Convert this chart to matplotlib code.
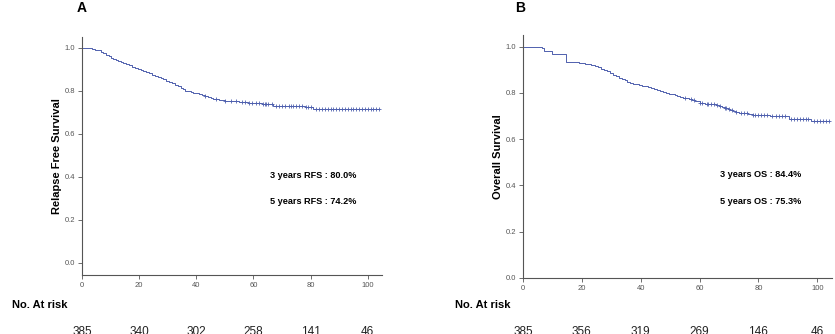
"""
Kaplan-Meier curves for relapse-free (A) and overall survival (B),
with number-at-risk rows under each panel.
"""
import numpy as np
import matplotlib.pyplot as plt

plt.rcParams["font.family"] = ["Liberation Sans", "DejaVu Sans"]

CURVE = "#4f60ae"

# Panel A: relapse-free survival step function (months, survival)
rfs_t = [0, 3.5, 4.5, 5.5, 6.5, 7.5, 8.5, 9.5, 10.2, 11, 11.8, 12.6, 13.5,
         14.5, 15.5, 16.5, 17.5, 18.5, 19.5, 20.5, 21.5, 22.5, 23.5, 24.5,
         25.5, 26.5, 27.5, 28.5, 29.5, 30.5, 31.5, 32.5, 33.5, 34.5, 35.5, 36,
         37, 38, 39, 40, 41, 42, 43, 44, 45, 46, 47, 48, 50, 52, 55, 58, 60,
         63, 66, 67, 72, 78, 81]
rfs_s = [1.0, 0.996, 0.992, 0.988, 0.982, 0.976, 0.969, 0.962, 0.955, 0.948,
         0.942, 0.937, 0.933, 0.929, 0.924, 0.919, 0.913, 0.907, 0.901, 0.897,
         0.892, 0.886, 0.881, 0.876, 0.870, 0.865, 0.859, 0.853, 0.847, 0.841,
         0.835, 0.829, 0.822, 0.815, 0.807, 0.800, 0.798, 0.796, 0.792, 0.788,
         0.784, 0.780, 0.776, 0.771, 0.767, 0.763, 0.760, 0.757, 0.754, 0.751,
         0.748, 0.745, 0.742, 0.740, 0.738, 0.731, 0.729, 0.727, 0.716]
rfs_end = 104
rfs_cens = [43, 47, 50, 52, 54, 56, 57, 58.5, 59.5, 61, 62, 63.5, 64, 64.5, 65,
            66.5, 68, 69, 70, 71, 72.5, 73, 74, 75, 76, 77, 78.5, 79, 80, 82,
            83, 84, 85, 86, 87, 88, 89, 90, 91, 92, 93, 94, 95, 96, 97, 98, 99,
            100, 101, 102, 103, 104]

# Panel B: overall survival step function
os_t = [0, 6.4, 7, 10, 14.5, 17, 19, 21, 23, 24.5, 25.5, 26.5, 27.5, 28.5,
        29.5, 30.5, 31.5, 32.5, 33.5, 34.5, 35.5, 36.5, 37.5, 38.5, 39.5,
        40.5, 41.5, 42.5, 43.5, 44.5, 45.5, 46.5, 47.5, 48.5, 49.5, 50.5,
        51.5, 52.5, 53.5, 54.5, 55.5, 56.5, 57.5, 58.5, 60, 62, 64, 65.5,
        66.5, 67.5, 68.5, 69.5, 70.5, 71.5, 72.5, 73.5, 75, 76.5, 78, 84,
        90.5, 98]
os_s = [1.0, 0.995, 0.983, 0.970, 0.935, 0.932, 0.928, 0.925, 0.920, 0.915,
        0.910, 0.905, 0.899, 0.893, 0.886, 0.879, 0.872, 0.866, 0.861, 0.855,
        0.849, 0.844, 0.840, 0.837, 0.834, 0.831, 0.828, 0.825, 0.822, 0.818,
        0.813, 0.808, 0.803, 0.800, 0.797, 0.794, 0.790, 0.786, 0.782, 0.779,
        0.776, 0.772, 0.768, 0.764, 0.755, 0.752, 0.750, 0.748, 0.744, 0.740,
        0.736, 0.731, 0.727, 0.723, 0.719, 0.715, 0.711, 0.707, 0.703, 0.698,
        0.688, 0.678]
os_end = 104
os_cens = [55, 57, 58, 60, 61, 62.5, 63, 64, 65, 66, 67, 68.5, 69, 70, 71,
           72.5, 74, 75, 76, 78, 79, 80, 81, 82, 83, 84.5, 86, 87, 88, 89,
           91, 92, 93, 94, 95, 96, 97, 99, 100, 101, 102, 103, 104]

risk_times = [0, 20, 40, 60, 80, 100]
rfs_risk = [385, 340, 302, 258, 141, 46]
os_risk = [385, 356, 319, 269, 146, 46]


def step_value(times, surv, x):
    idx = np.searchsorted(times, x, side="right") - 1
    return np.asarray(surv)[idx]


def km_panel(ax, times, surv, t_end, cens, ylabel, notes, ymin, note_xy):
    t = list(times) + [t_end]
    s = list(surv) + [surv[-1]]
    ax.step(t, s, where="post", color=CURVE, lw=0.7)
    ax.plot(cens, step_value(times, surv, cens), ls="none", marker="+",
            ms=3.5, mew=0.6, color=CURVE)
    ax.set_xlim(0, 105)
    ax.set_ylim(ymin, 1.05)
    ax.set_xticks([0, 20, 40, 60, 80, 100])
    ax.set_yticks([0.0, 0.2, 0.4, 0.6, 0.8, 1.0])
    ax.set_yticklabels([f"{v:.1f}" for v in ax.get_yticks()])
    for side in ("top", "right"):
        ax.spines[side].set_visible(False)
    for side in ("left", "bottom"):
        ax.spines[side].set_color("#555555")
        ax.spines[side].set_linewidth(0.8)
    ax.tick_params(length=3, width=0.6, color="#555555", labelsize=5.5,
                   labelcolor="#555555", pad=2)
    ax.set_ylabel(ylabel, fontsize=8, fontweight="bold", labelpad=2)
    nx, ny1, ny2 = note_xy
    ax.text(nx, ny1, notes[0], transform=ax.transAxes, fontsize=6.6,
            fontweight="bold", va="center")
    ax.text(nx, ny2, notes[1], transform=ax.transAxes, fontsize=6.6,
            fontweight="bold", va="center")


fig = plt.figure(figsize=(8.35, 3.34), dpi=100)
axA = fig.add_axes([0.0982, 0.1766, 0.3593, 0.7124])
axB = fig.add_axes([0.6263, 0.1677, 0.3701, 0.7275])

km_panel(axA, rfs_t, rfs_s, rfs_end, rfs_cens, "Relapse Free Survival",
         ["3 years RFS : 80.0%", "5 years RFS : 74.2%"], -0.056,
         (0.627, 0.42, 0.307))
km_panel(axB, os_t, os_s, os_end, os_cens, "Overall Survival",
         ["3 years OS : 84.4%", "5 years OS : 75.3%"], 0.0,
         (0.638, 0.424, 0.313))

fig.text(0.098, 0.975, "A", fontsize=10, fontweight="bold", va="center",
         ha="center")
fig.text(0.623, 0.975, "B", fontsize=10, fontweight="bold", va="center",
         ha="center")

# number-at-risk rows
for ax, risk, x0 in ((axA, rfs_risk, 0.014), (axB, os_risk, 0.545)):
    fig.text(x0, 1 - 305 / 334, "No. At risk", fontsize=8,
             fontweight="bold", va="center")
    trans = ax.get_xaxis_transform()
    y_ax = ax.transAxes.inverted().transform(
        fig.transFigure.transform((0, 1 - 326 / 334)))[1]
    for t, n in zip(risk_times, risk):
        ax.text(t, y_ax, str(n), transform=trans, fontsize=8.5, ha="center",
                va="top", clip_on=False, color="#222222")

fig.savefig("out.png", dpi=100)
